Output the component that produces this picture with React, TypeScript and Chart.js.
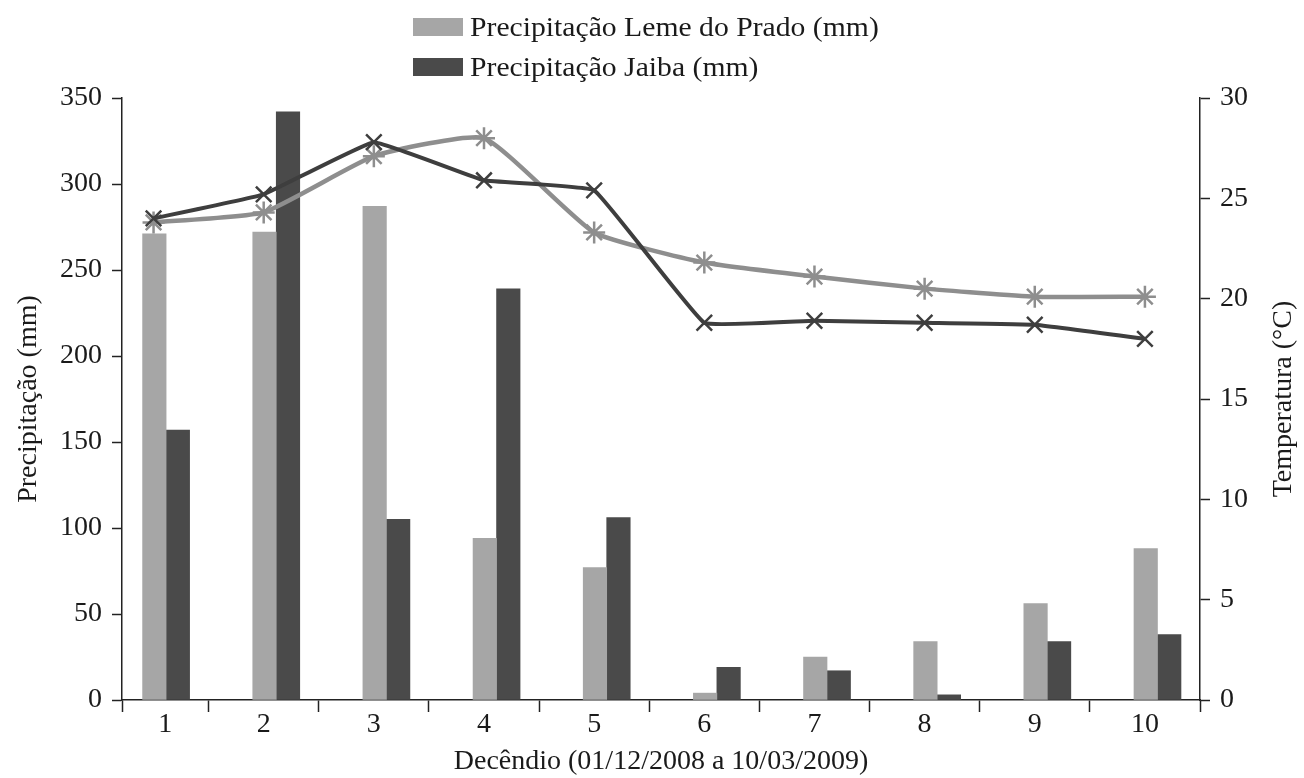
import React, { useEffect, useRef } from 'react';
import { Chart, registerables } from 'chart.js';

Chart.register(...registerables);

// ---------- data ----------
const decendios = ['1', '2', '3', '4', '5', '6', '7', '8', '9', '10'];
const precipLeme = [271, 272, 287, 94, 77, 4, 25, 34, 56, 88];
const precipJaiba = [157, 342, 105, 239, 106, 19, 17, 3, 34, 38];
const tempLeme = [23.8, 24.3, 27.1, 28.0, 23.3, 21.8, 21.1, 20.5, 20.1, 20.1];
const tempJaiba = [24.0, 25.2, 27.8, 25.9, 25.4, 18.8, 18.9, 18.8, 18.7, 18.0];
const precipTickValues = [0, 50, 100, 150, 200, 250, 300, 350];
const tempTickValues = [0, 5, 10, 15, 20, 25, 30];

const seriesNames = ['Precipitação Leme do Prado (mm)', 'Precipitação Jaiba (mm)'];
const xTitle = 'Decêndio (01/12/2008 a 10/03/2009)';
const yTitle = 'Precipitação (mm)';
const y1Title = 'Temperatura (°C)';

// ---------- style ----------
const FONT = "'Liberation Serif', 'Times New Roman', serif";
const TEXT = '#1a1a1a';
const AXIS = '#222222';
const LIGHT_BAR = '#a6a6a6';
const DARK_BAR = '#4a4a4a';
const LIGHT_LINE = '#8e8e8e';
const DARK_LINE = '#3e3e3e';
const X_MIN = 0.7136;
const X_MAX = 10.5;
const BAR_SHIFT = 0.114;
const BAR_THICKNESS = 23.5;

const rightTitlePlugin = {
  id: 'rightTitle',
  afterDraw(chart: any) {
    const { ctx, chartArea } = chart;
    ctx.save();
    ctx.translate(chart.width - 20, (chartArea.top + chartArea.bottom) / 2);
    ctx.rotate(-Math.PI / 2);
    ctx.font = `28px ${FONT}`;
    ctx.fillStyle = TEXT;
    ctx.textAlign = 'center';
    ctx.textBaseline = 'middle';
    ctx.fillText(y1Title, 0, 0);
    ctx.restore();
  },
};

export default function App() {
  const ref = useRef<HTMLCanvasElement | null>(null);

  useEffect(() => {
    if (!ref.current) return;
    const num = (s: string) => Number(s);
    const chart = new Chart(ref.current, {
      type: 'bar',
      data: {
        datasets: [
          {
            type: 'line',
            label: 'Temperatura Leme do Prado',
            data: decendios.map((d, i) => ({ x: num(d), y: tempLeme[i] })),
            xAxisID: 'x',
            yAxisID: 'y1',
            borderColor: LIGHT_LINE,
            backgroundColor: LIGHT_LINE,
            borderWidth: 4.5,
            tension: 0.15,
            pointStyle: 'star',
            pointRadius: 11,
            pointBorderWidth: 2.5,
            pointBorderColor: LIGHT_LINE,
            order: 1,
          } as any,
          {
            type: 'line',
            label: 'Temperatura Jaiba',
            data: decendios.map((d, i) => ({ x: num(d), y: tempJaiba[i] })),
            xAxisID: 'x',
            yAxisID: 'y1',
            borderColor: DARK_LINE,
            backgroundColor: DARK_LINE,
            borderWidth: 4,
            tension: 0.08,
            pointStyle: 'crossRot',
            pointRadius: 11,
            pointBorderWidth: 2.5,
            pointBorderColor: DARK_LINE,
            order: 0,
          } as any,
          {
            type: 'bar',
            label: seriesNames[0],
            data: decendios.map((d, i) => ({ x: num(d), y: precipLeme[i] })),
            xAxisID: 'xb',
            yAxisID: 'y',
            backgroundColor: LIGHT_BAR,
            barThickness: BAR_THICKNESS,
            order: 2,
          } as any,
          {
            type: 'bar',
            label: seriesNames[1],
            data: decendios.map((d, i) => ({ x: num(d), y: precipJaiba[i] })),
            xAxisID: 'xb',
            yAxisID: 'y',
            backgroundColor: DARK_BAR,
            barThickness: BAR_THICKNESS,
            order: 2,
          } as any,
        ],
      },
      options: {
        responsive: false,
        animation: false,
        events: [],
        layout: { padding: { top: 98, left: 0, right: 0, bottom: 0 } },
        plugins: {
          legend: { display: false },
          tooltip: { enabled: false },
        },
        scales: {
          x: {
            type: 'linear',
            position: 'bottom',
            bounds: 'data',
            offset: false,
            min: X_MIN,
            max: X_MAX,
            afterBuildTicks: (scale: any) => {
              const t: any[] = [{ value: X_MIN }];
              decendios.forEach((d, i) => {
                const v = num(d);
                t.push({ value: i === 0 ? (X_MIN + v + 0.5) / 2 : v });
                t.push({ value: v + 0.5 });
              });
              scale.ticks = t;
            },
            afterFit: (scale: any) => {
              scale.height = 78;
            },
            ticks: {
              autoSkip: false,
              maxRotation: 0,
              minRotation: 0,
              padding: -4,
              color: TEXT,
              font: { family: FONT, size: 28 },
              callback: (_v: any, i: number) => (i % 2 === 1 ? decendios[(i - 1) / 2] : ''),
            },
            grid: {
              offset: false,
              drawOnChartArea: false,
              drawTicks: true,
              tickLength: 12,
              tickWidth: 1.5,
              tickColor: (ctx: any) => (ctx.index % 2 === 0 ? AXIS : 'rgba(0,0,0,0)'),
            },
            border: { display: true, color: AXIS, width: 1.5 },
            title: {
              display: true,
              text: xTitle,
              color: TEXT,
              font: { family: FONT, size: 28 },
              padding: { top: 0, bottom: 0 },
            },
          },
          xb: {
            type: 'linear',
            display: false,
            bounds: 'data',
            offset: false,
            grid: { offset: false },
            min: X_MIN - BAR_SHIFT,
            max: X_MAX - BAR_SHIFT,
            afterBuildTicks: (scale: any) => {
              scale.ticks = decendios.map((d) => ({ value: num(d) }));
            },
          },
          y: {
            type: 'linear',
            position: 'left',
            min: 0,
            max: 350,
            afterBuildTicks: (scale: any) => {
              scale.ticks = precipTickValues.map((v) => ({ value: v }));
            },
            afterFit: (scale: any) => {
              scale.width = 122;
            },
            ticks: {
              padding: 10,
              color: TEXT,
              font: { family: FONT, size: 28 },
            },
            grid: {
              drawOnChartArea: false,
              tickLength: 10,
              tickWidth: 1.5,
              tickColor: AXIS,
            },
            border: { display: true, color: AXIS, width: 1.5 },
            title: {
              display: true,
              text: yTitle,
              color: TEXT,
              font: { family: FONT, size: 28 },
              padding: { top: 12, bottom: 0 },
            },
          },
          y1: {
            type: 'linear',
            position: 'right',
            min: 0,
            max: 30,
            afterBuildTicks: (scale: any) => {
              scale.ticks = tempTickValues.map((v) => ({ value: v }));
            },
            afterFit: (scale: any) => {
              scale.width = 104;
            },
            ticks: {
              padding: 10,
              color: TEXT,
              font: { family: FONT, size: 28 },
            },
            grid: {
              drawOnChartArea: false,
              tickLength: 10,
              tickWidth: 1.5,
              tickColor: AXIS,
            },
            border: { display: true, color: AXIS, width: 1.5 },
          },
        },
      } as any,
      plugins: [rightTitlePlugin],
    });
    return () => chart.destroy();
  }, []);

  const legendRow = (name: string, color: string, top: number) => (
    <div key={name} style={{ position: 'absolute', left: 413, top, height: 34 }}>
      <div
        style={{
          position: 'absolute',
          left: 0,
          top: 8,
          width: 50,
          height: 18,
          background: color,
        }}
      />
      <div
        style={{
          position: 'absolute',
          left: 57,
          top: 0,
          whiteSpace: 'nowrap',
          fontFamily: FONT,
          fontSize: 28,
          lineHeight: '34px',
          color: TEXT,
          transform: 'scaleX(1.06)',
          transformOrigin: 'left center',
        }}
      >
        {name}
      </div>
    </div>
  );

  return (
    <div
      style={{
        position: 'absolute',
        left: 0,
        top: 0,
        width: 1304,
        height: 778,
        background: '#ffffff',
        overflow: 'hidden',
      }}
    >
      <canvas
        ref={ref}
        width={1304}
        height={778}
        style={{ position: 'absolute', left: 0, top: 0, width: 1304, height: 778 }}
      />
      {legendRow(seriesNames[0], LIGHT_BAR, 10)}
      {legendRow(seriesNames[1], DARK_BAR, 50)}
    </div>
  );
}
